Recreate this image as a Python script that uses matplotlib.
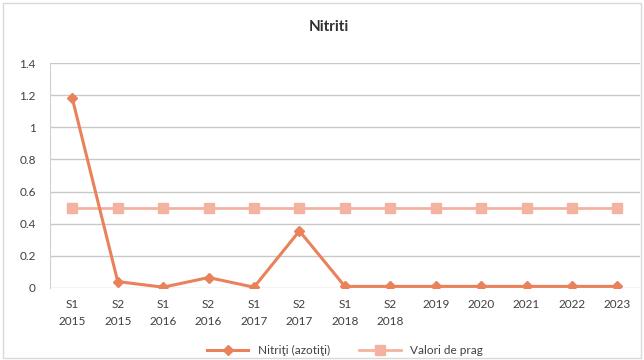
import matplotlib
matplotlib.use("Agg")
import matplotlib.pyplot as plt
from matplotlib.patches import Rectangle

plt.rcParams['font.family'] = ['Lato', 'DejaVu Sans']

categories = ["S1\n2015", "S2\n2015", "S1\n2016", "S2\n2016", "S1\n2017", "S2\n2017",
              "S1\n2018", "S2\n2018", "2019", "2020", "2021", "2022", "2023"]
nitriti = [1.18, 0.04, 0.005, 0.065, 0.005, 0.355, 0.01, 0.01, 0.01, 0.01, 0.01, 0.01, 0.01]
prag = [0.5] * 13
yticks = [0, 0.2, 0.4, 0.6, 0.8, 1, 1.2, 1.4]

line_col = '#E9825A'
prag_col = '#F3B3A0'

fig = plt.figure(figsize=(6.44, 3.6), dpi=100)
fig.patches.append(Rectangle((0.004, 0.006), 0.992, 0.986, transform=fig.transFigure,
                             fill=False, edgecolor='#d9d9d9', linewidth=1))
ax = fig.add_axes([0.077, 0.2, 0.917, 0.625])

x = list(range(len(categories)))
ax.plot(x, nitriti, color=line_col, linewidth=2.2, marker='D', markersize=5,
        label='Nitriţi (azotiţi)', zorder=3)
ax.plot(x, prag, color=prag_col, linewidth=2.0, marker='s', markersize=7.5,
        label='Valori de prag', zorder=2)

ax.set_xlim(-0.5, len(categories) - 0.5)
ax.set_ylim(0, 1.4)
ax.set_yticks(yticks)
ax.set_yticklabels([f"{v:g}" for v in yticks])
ax.set_xticks(x)
ax.set_xticklabels(categories, linespacing=1.6)
ax.tick_params(axis='both', length=0, labelsize=8.5, colors='#404040')
ax.tick_params(axis='x', pad=8)
ax.tick_params(axis='y', pad=10)
# keep single-line year labels on the first row
for lbl in ax.get_xticklabels():
    lbl.set_verticalalignment('top')
ax.grid(axis='y', color='#c8c8c8', linewidth=1)
ax.set_axisbelow(True)
for s in ['top', 'right', 'bottom']:
    ax.spines[s].set_visible(False)
ax.spines['left'].set_color('#d0d0d0')

fig.text(0.51, 0.925, 'Nitriti', ha='center', va='center', fontsize=11,
         fontweight='bold', color='#303030')

ax.legend(loc='upper center', bbox_to_anchor=(0.5, -0.205), ncol=2, frameon=False,
          fontsize=8.5, handlelength=3.5, columnspacing=2.5, labelcolor='#404040')

fig.savefig('out.png', dpi=100)
